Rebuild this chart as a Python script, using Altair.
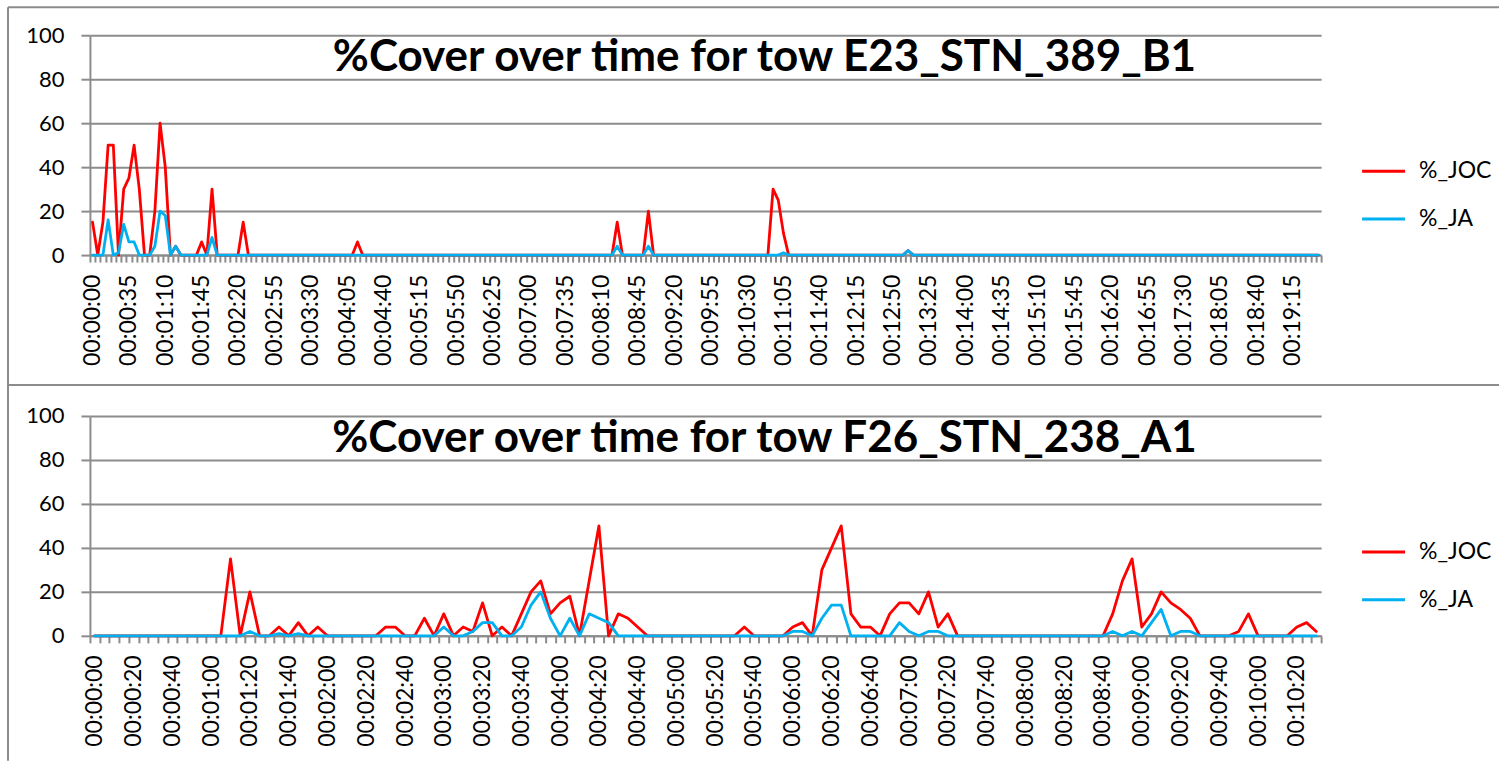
import altair as alt
import pandas as pd

# Percent cover of %_JOC and %_JA logged every 5 seconds along two tows.
TOW_A_NAME = "E23_STN_389_B1"
TOW_B_NAME = "F26_STN_238_A1"

TOW_A_JOC = [
    15, 0, 15, 50, 50, 0, 30, 35, 50, 30,
    0, 0, 20, 60, 40, 0, 4, 0, 0, 0,
    0, 6, 0, 30, 0, 0, 0, 0, 0, 15,
    0, 0, 0, 0, 0, 0, 0, 0, 0, 0,
    0, 0, 0, 0, 0, 0, 0, 0, 0, 0,
    0, 6, 0, 0, 0, 0, 0, 0, 0, 0,
    0, 0, 0, 0, 0, 0, 0, 0, 0, 0,
    0, 0, 0, 0, 0, 0, 0, 0, 0, 0,
    0, 0, 0, 0, 0, 0, 0, 0, 0, 0,
    0, 0, 0, 0, 0, 0, 0, 0, 0, 0,
    0, 15, 0, 0, 0, 0, 0, 20, 0, 0,
    0, 0, 0, 0, 0, 0, 0, 0, 0, 0,
    0, 0, 0, 0, 0, 0, 0, 0, 0, 0,
    0, 30, 25, 10, 0, 0, 0, 0, 0, 0,
    0, 0, 0, 0, 0, 0, 0, 0, 0, 0,
    0, 0, 0, 0, 0, 0, 0, 2, 0, 0,
    0, 0, 0, 0, 0, 0, 0, 0, 0, 0,
    0, 0, 0, 0, 0, 0, 0, 0, 0, 0,
    0, 0, 0, 0, 0, 0, 0, 0, 0, 0,
    0, 0, 0, 0, 0, 0, 0, 0, 0, 0,
    0, 0, 0, 0, 0, 0, 0, 0, 0, 0,
    0, 0, 0, 0, 0, 0, 0, 0, 0, 0,
    0, 0, 0, 0, 0, 0, 0, 0, 0, 0,
    0, 0, 0, 0, 0, 0, 0,
]
TOW_A_JA = [
    0, 0, 0, 16, 0, 1, 14, 6, 6, 0,
    0, 0, 4, 20, 18, 0, 4, 0, 0, 0,
    0, 0, 0, 8, 0, 0, 0, 0, 0, 0,
    0, 0, 0, 0, 0, 0, 0, 0, 0, 0,
    0, 0, 0, 0, 0, 0, 0, 0, 0, 0,
    0, 0, 0, 0, 0, 0, 0, 0, 0, 0,
    0, 0, 0, 0, 0, 0, 0, 0, 0, 0,
    0, 0, 0, 0, 0, 0, 0, 0, 0, 0,
    0, 0, 0, 0, 0, 0, 0, 0, 0, 0,
    0, 0, 0, 0, 0, 0, 0, 0, 0, 0,
    0, 4, 0, 0, 0, 0, 0, 4, 0, 0,
    0, 0, 0, 0, 0, 0, 0, 0, 0, 0,
    0, 0, 0, 0, 0, 0, 0, 0, 0, 0,
    0, 0, 0, 1, 0, 0, 0, 0, 0, 0,
    0, 0, 0, 0, 0, 0, 0, 0, 0, 0,
    0, 0, 0, 0, 0, 0, 0, 2, 0, 0,
    0, 0, 0, 0, 0, 0, 0, 0, 0, 0,
    0, 0, 0, 0, 0, 0, 0, 0, 0, 0,
    0, 0, 0, 0, 0, 0, 0, 0, 0, 0,
    0, 0, 0, 0, 0, 0, 0, 0, 0, 0,
    0, 0, 0, 0, 0, 0, 0, 0, 0, 0,
    0, 0, 0, 0, 0, 0, 0, 0, 0, 0,
    0, 0, 0, 0, 0, 0, 0, 0, 0, 0,
    0, 0, 0, 0, 0, 0, 0,
]

TOW_B_JOC = [
    0, 0, 0, 0, 0, 0, 0, 0, 0, 0,
    0, 0, 0, 0, 35, 0, 20, 0, 0, 4,
    0, 6, 0, 4, 0, 0, 0, 0, 0, 0,
    4, 4, 0, 0, 8, 0, 10, 0, 4, 2,
    15, 0, 4, 0, 10, 20, 25, 10, 15, 18,
    0, 25, 50, 0, 10, 8, 4, 0, 0, 0,
    0, 0, 0, 0, 0, 0, 0, 4, 0, 0,
    0, 0, 4, 6, 0, 30, 40, 50, 10, 4,
    4, 0, 10, 15, 15, 10, 20, 4, 10, 0,
    0, 0, 0, 0, 0, 0, 0, 0, 0, 0,
    0, 0, 0, 0, 0, 10, 25, 35, 4, 10,
    20, 15, 12, 8, 0, 0, 0, 0, 2, 10,
    0, 0, 0, 0, 4, 6, 2,
]
TOW_B_JA = [
    0, 0, 0, 0, 0, 0, 0, 0, 0, 0,
    0, 0, 0, 0, 0, 0, 2, 0, 0, 1,
    0, 1, 0, 0, 0, 0, 0, 0, 0, 0,
    0, 0, 0, 0, 0, 0, 4, 0, 0, 2,
    6, 6, 0, 0, 4, 14, 20, 8, 0, 8,
    0, 10, 8, 6, 0, 0, 0, 0, 0, 0,
    0, 0, 0, 0, 0, 0, 0, 0, 0, 0,
    0, 0, 2, 2, 0, 8, 14, 14, 0, 0,
    0, 0, 0, 6, 2, 0, 2, 2, 0, 0,
    0, 0, 0, 0, 0, 0, 0, 0, 0, 0,
    0, 0, 0, 0, 0, 2, 0, 2, 0, 6,
    12, 0, 2, 2, 0, 0, 0, 0, 0, 0,
    0, 0, 0, 0, 0, 0, 0,
]

SERIES = ["%_JOC", "%_JA"]
COLORS = ["#FF0000", "#00B0F0"]
Y_TICKS = [0, 20, 40, 60, 80, 100]

GRID = "#8c8c8c"
FONT = "Lato"
PLOT_W, PLOT_H = 1232, 220


def clock_labels(count, step_s=5):
    """hh:mm:ss stamps for samples taken every step_s seconds from zero."""
    out = []
    for i in range(count):
        s = i * step_s
        out.append(f"{s // 3600:02d}:{(s % 3600) // 60:02d}:{s % 60:02d}")
    return out


def one_row(**cols):
    return pd.DataFrame({k: [v] for k, v in cols.items()})


def tow_panel(name, joc, ja, label_every_s, top_gap, bottom_edge):
    assert len(joc) == len(ja)
    times = clock_labels(len(joc))
    n = len(times)
    df = pd.DataFrame({
        "time": times + times,
        "series": [SERIES[0]] * n + [SERIES[1]] * n,
        "cover": joc + ja,
    })

    label_expr = (
        "(toNumber(substring(datum.value, 3, 5)) * 60 + "
        "toNumber(substring(datum.value, 6, 8))) % " + str(label_every_s)
        + " == 0 ? datum.value : ''"
    )
    x = alt.X(
        "time:O", sort=times, bandPosition=0.5,
        scale=alt.Scale(type="band", paddingInner=0, paddingOuter=0),
        axis=alt.Axis(
            title=None, grid=False, zindex=0,
            labelAngle=270, labelExpr=label_expr, labelOverlap=False,
            labelFont=FONT, labelFontSize=23, labelColor="black", labelPadding=12,
            tickBand="extent", tickSize=7, tickWidth=2, tickColor=GRID,
            domainColor=GRID, domainWidth=2,
        ),
    )
    y = alt.Y(
        "cover:Q",
        scale=alt.Scale(domain=[0, 100], nice=False, zero=True),
        axis=alt.Axis(
            title=None, values=Y_TICKS, zindex=0,
            labelFont=FONT, labelFontSize=22, labelColor="black", labelPadding=17,
            tickSize=9, tickWidth=2, tickColor=GRID,
            domainColor=GRID, domainWidth=2,
            grid=True, gridColor=GRID, gridWidth=2,
        ),
    )

    base = alt.Chart(df)
    layers = []
    # %_JOC first, %_JA drawn over it
    for s, c in zip(SERIES, COLORS):
        layers.append(
            base.transform_filter(alt.datum.series == s)
            .mark_line(color=c, strokeWidth=2.8, strokeJoin="round", strokeCap="round")
            .encode(x=x, y=y)
        )

    # chart title sits inside the plot, over the top gridlines
    layers.append(
        alt.Chart(one_row(t=f"%Cover over time for tow {name}"))
        .mark_text(font=FONT, fontSize=44, fontWeight="bold", color="black",
                   align="center", baseline="alphabetic")
        .encode(x=alt.value(675), y=alt.value(36), text="t:N")
    )

    # legend on the right
    for k, (s, c) in enumerate(zip(SERIES, COLORS)):
        ly = 136 + 48 * k
        layers.append(
            alt.Chart(one_row(name=s))
            .mark_rule(color=c, strokeWidth=3)
            .encode(x=alt.value(1273), x2=alt.value(1316), y=alt.value(ly))
        )
        layers.append(
            alt.Chart(one_row(name=s))
            .mark_text(font=FONT, fontSize=23, color="black", align="left", baseline="middle")
            .encode(x=alt.value(1330), y=alt.value(ly), text="name:N")
        )

    # chart frame: top and left edges
    frame = one_row(f="frame")
    layers.append(
        alt.Chart(frame).mark_rule(color=GRID, strokeWidth=2)
        .encode(x=alt.value(-82), x2=alt.value(1410), y=alt.value(top_gap))
    )
    layers.append(
        alt.Chart(frame).mark_rule(color=GRID, strokeWidth=2)
        .encode(x=alt.value(-82), y=alt.value(top_gap), y2=alt.value(bottom_edge))
    )

    return alt.layer(*layers).properties(width=PLOT_W, height=PLOT_H)


top = tow_panel(TOW_A_NAME, TOW_A_JOC, TOW_A_JA, 35, -28, 350)
bottom = tow_panel(TOW_B_NAME, TOW_B_JOC, TOW_B_JA, 20, -31, 345)

chart = (
    alt.vconcat(top, bottom, spacing=161, bounds="flush")
    .properties(padding={"left": 6, "top": 5, "right": 0, "bottom": 0}, background="white")
    .configure_view(stroke="transparent")
)

chart.save("out.html", embed_options={"renderer": "svg", "actions": False})
